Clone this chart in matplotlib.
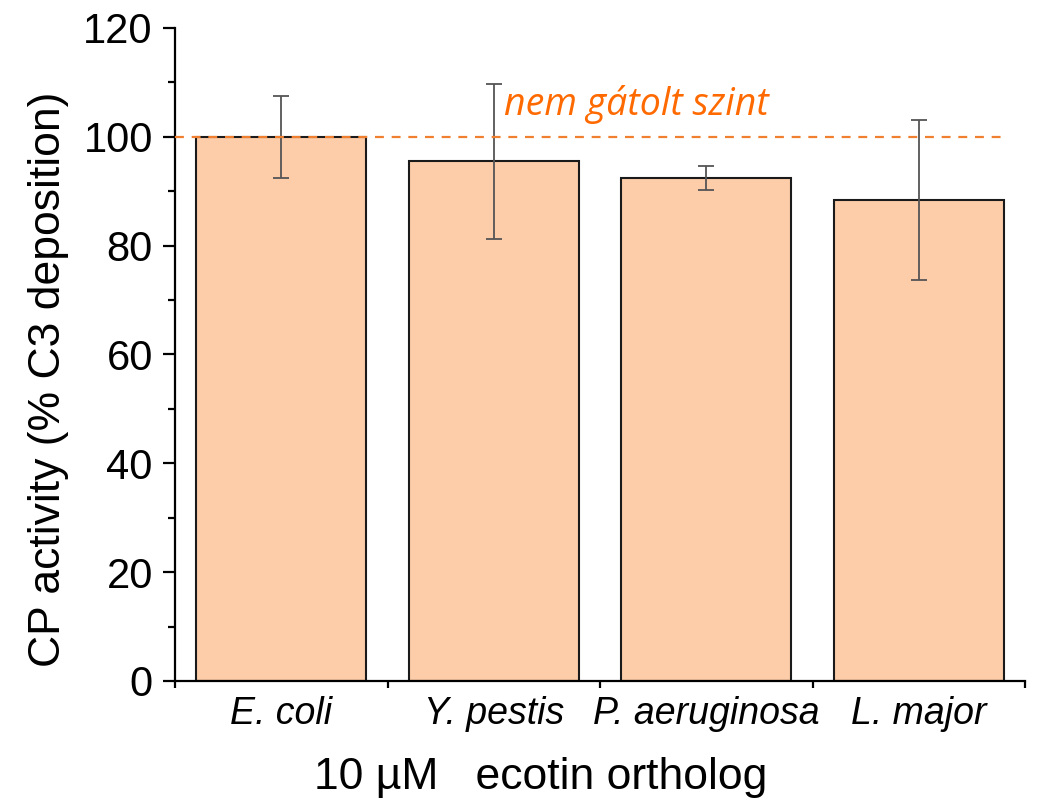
import matplotlib.pyplot as plt
from matplotlib.ticker import FixedLocator, MultipleLocator

# Data
species = ["E. coli", "Y. pestis", "P. aeruginosa", "L. major"]
activity = [100.0, 95.5, 92.5, 88.3]
errors = [7.5, 14.2, 2.2, 14.7]
reference_level = 100
reference_label = "nem gátolt szint"

plt.rcParams["font.family"] = ["Liberation Sans", "DejaVu Sans"]

fig = plt.figure(figsize=(10.38, 8.02), dpi=100)
ax = fig.add_axes([0.1686, 0.1509, 0.8189, 0.8142])

x = list(range(len(species)))
ax.bar(x, activity, width=0.8, color="#FDCCA8", edgecolor="#1a1a1a",
       linewidth=1.5, zorder=2)
ax.errorbar(x, activity, yerr=errors, fmt="none", ecolor="#555555",
            elinewidth=1.3, capsize=6, capthick=1.3, zorder=3)

# untreated reference level
ax.axhline(reference_level, xmin=0, xmax=0.979, color="#F08030",
           linestyle=(0, (4, 3.5)), linewidth=1.6, zorder=4)
ax.text(1.05, 104, reference_label, color="#FF6A00", fontsize=27,
        style="italic", family=["Open Sans", "DejaVu Sans"], ha="left",
        va="baseline")

ax.set_xlim(-0.5, len(species) - 0.5)
ax.set_ylim(0, 120)

ax.spines["top"].set_visible(False)
ax.spines["right"].set_visible(False)
ax.spines["left"].set_linewidth(1.6)
ax.spines["bottom"].set_linewidth(1.6)

ax.yaxis.set_major_locator(MultipleLocator(20))
ax.yaxis.set_minor_locator(MultipleLocator(10))
ax.tick_params(axis="y", which="major", length=9, width=1.6, pad=7,
               labelsize=30)
ax.tick_params(axis="y", which="minor", length=5, width=1.6)

ax.set_xticks(x)
ax.set_xticklabels(species, style="italic", fontsize=27)
ax.xaxis.set_minor_locator(FixedLocator([i - 0.5 for i in range(len(species) + 1)]))
ax.tick_params(axis="x", which="major", length=0, pad=11)
ax.tick_params(axis="x", which="minor", length=5, width=1.6)

ax.set_ylabel("CP activity (% C3 deposition)", fontsize=32)
ax.yaxis.set_label_coords(-0.125, 0.462)
fig.text(0.5205, 0.03, "10 \u00b5M   ecotin ortholog", fontsize=32,
         ha="center", va="center")

plt.savefig("out.png", dpi=100)
plt.close()
